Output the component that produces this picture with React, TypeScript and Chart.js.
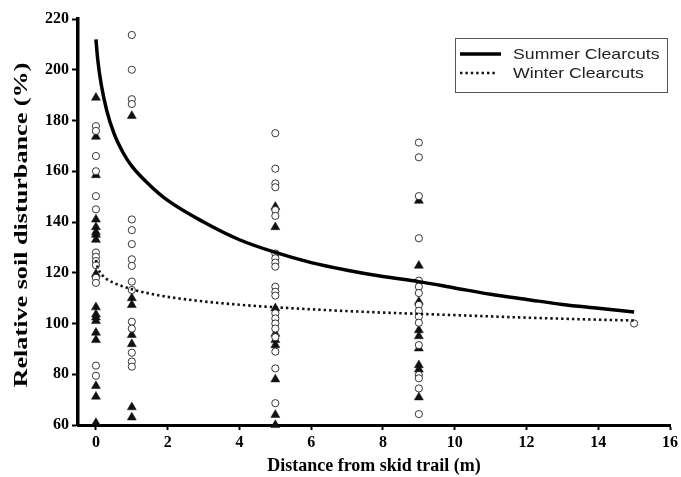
import React, { useEffect, useRef } from "react";
import { Chart, registerables } from "chart.js";

Chart.register(...registerables);

// ---- Data ----
const xTicks = [0, 2, 4, 6, 8, 10, 12, 14, 16];
const yTicks = [60, 80, 100, 120, 140, 160, 180, 200, 220];

const xTitle = "Distance from skid trail (m)";
const yTitle = "Relative soil disturbance (%)";
const summerLabel = "Summer Clearcuts";
const winterLabel = "Winter Clearcuts";

// Fitted curves
const summerCurveX = [0, 0.05, 0.15, 0.3, 0.5, 0.75, 1, 1.5, 2, 3, 4, 5, 6, 7, 8, 9, 10, 11, 12, 13, 14, 15];
const summerCurveY = [212, 204, 194, 184, 175, 167.5, 162, 154.5, 148.5, 140, 133, 128, 124, 121, 118.5, 116.5, 114, 111.5, 109.5, 107.5, 106, 104.5];

const winterCurveX = [0, 0.05, 0.15, 0.3, 0.5, 1, 1.5, 2, 3, 4, 5, 6, 7, 8, 9, 10, 11, 12, 13, 14, 15];
const winterCurveY = [125, 122, 119.5, 117.5, 116, 113.5, 111.8, 110.5, 108.7, 107.4, 106.4, 105.6, 104.9, 104.3, 103.8, 103.3, 102.8, 102.3, 101.9, 101.5, 101.2];

// Observations: open circles
const distances = [0, 1, 5, 9, 15];
const openAt0 = [177.8, 175.9, 166, 160, 150.2, 145, 128, 126.3, 124.6, 123, 118, 116, 83.4, 79.4];
const openAt1 = [213.7, 200, 188.4, 186.5, 141, 136.8, 131.3, 125.3, 122.7, 116.5, 113.2, 100.7, 98, 88.5, 85, 83];
const openAt5 = [175, 161, 155.2, 153.7, 144.7, 142.4, 127.6, 125.7, 124, 122.4, 114.5, 112.5, 111, 104, 102, 100, 98, 94.6, 88.9, 82.3, 68.6];
const openAt9 = [171.3, 165.5, 150.2, 133.6, 116.9, 114.5, 112, 107.3, 105, 102.7, 100.3, 91.5, 79.7, 78.4, 74.4, 64.3];
const openAt15 = [100];

// Observations: filled triangles
const filledAt0 = [189, 173.6, 158.5, 141, 138, 136, 135, 133, 119.5, 106.4, 103.6, 102.4, 101, 96.4, 93.5, 75.4, 71.2, 60.8];
const filledAt1 = [181.8, 110, 107.3, 95.5, 91.9, 67, 63];
const filledAt5 = [146, 138, 106, 96, 93.5, 91.5, 78, 64, 60];
const filledAt9 = [148.4, 122.8, 108.6, 97.4, 95, 90.2, 83.6, 81.9, 70.9];
const filledAt15: number[] = [];

const openGroups = [openAt0, openAt1, openAt5, openAt9, openAt15];
const filledGroups = [filledAt0, filledAt1, filledAt5, filledAt9, filledAt15];

const toPoints = (groups: number[][]) =>
  groups.flatMap((vals, i) => vals.map((v) => ({ x: distances[i], y: v })));

const zip = (xs: number[], ys: number[]) => xs.map((x, i) => ({ x, y: ys[i] }));

const serif = '"Liberation Serif", "Times New Roman", serif';

const yTitlePlugin = {
  id: "yTitleStretched",
  afterDraw(chart: any) {
    const { ctx, chartArea } = chart;
    ctx.save();
    ctx.font = `bold 18px ${serif}`;
    const w = ctx.measureText(yTitle).width;
    const target = (chartArea.bottom - chartArea.top) * 0.8;
    ctx.translate(22, (chartArea.top + chartArea.bottom) / 2 + 3);
    ctx.rotate(-Math.PI / 2);
    ctx.scale(target / w, 1);
    ctx.textAlign = "center";
    ctx.textBaseline = "middle";
    ctx.fillStyle = "#000";
    ctx.fillText(yTitle, 0, 0);
    ctx.restore();
  },
};

const legendPlugin = {
  id: "boxLegend",
  afterDraw(chart: any) {
    const { ctx, chartArea } = chart;
    const ds = chart.data.datasets;
    const right = chartArea.right - 3;
    const top = chartArea.top + 19;
    const w = 212;
    const h = 54;
    const left = right - w;
    ctx.save();
    ctx.fillStyle = "#fff";
    ctx.fillRect(left, top, w, h);
    ctx.strokeStyle = "#555";
    ctx.lineWidth = 1;
    ctx.strokeRect(left + 0.5, top + 0.5, w, h);
    const rows = [top + 16, top + 35];
    [0, 1].forEach((k, i) => {
      const d = ds[k];
      ctx.beginPath();
      ctx.strokeStyle = d.borderColor;
      ctx.lineWidth = d.borderWidth;
      ctx.setLineDash(d.borderDash || []);
      ctx.moveTo(left + 5, rows[i]);
      ctx.lineTo(left + (d.borderDash ? 42 : 46), rows[i]);
      ctx.stroke();
      ctx.setLineDash([]);
      ctx.save();
      ctx.translate(left + 58, rows[i]);
      ctx.scale(1.18, 1);
      ctx.font = '15px "Liberation Sans", Arial, sans-serif';
      ctx.fillStyle = "#222";
      ctx.textAlign = "left";
      ctx.textBaseline = "middle";
      ctx.fillText(d.label, 0, 1);
      ctx.restore();
    });
    ctx.restore();
  },
};

export default function App() {
  const ref = useRef<HTMLCanvasElement | null>(null);

  useEffect(() => {
    if (!ref.current) return;
    const tickFont = { family: serif, weight: "bold" as const, size: 16 };
    const chart = new Chart(ref.current, {
      type: "scatter",
      data: {
        datasets: [
          {
            label: summerLabel,
            data: zip(summerCurveX, summerCurveY),
            showLine: true,
            borderColor: "#000",
            borderWidth: 3.5,
            pointRadius: 0,
            cubicInterpolationMode: "monotone",
            fill: false,
          } as any,
          {
            label: winterLabel,
            data: zip(winterCurveX, winterCurveY),
            showLine: true,
            borderColor: "#111",
            borderWidth: 2.6,
            borderDash: [2.4, 3],
            pointRadius: 0,
            cubicInterpolationMode: "monotone",
            fill: false,
          } as any,
          {
            label: "open",
            data: toPoints(openGroups),
            pointStyle: "circle",
            pointRadius: 3.6,
            pointBorderWidth: 0.9,
            pointBorderColor: "#222",
            pointBackgroundColor: "#fff",
            showLine: false,
            clip: false,
          } as any,
          {
            label: "filled",
            data: toPoints(filledGroups),
            pointStyle: "triangle",
            pointRadius: 5.2,
            pointBorderWidth: 0.5,
            pointBorderColor: "#111",
            pointBackgroundColor: "#111",
            showLine: false,
            clip: false,
          } as any,
        ],
      },
      options: {
        responsive: false,
        animation: false,
        devicePixelRatio: 1,
        layout: { padding: { left: 0, top: 19, right: 8, bottom: 0 } },
        plugins: {
          legend: { display: false },
          tooltip: { enabled: false },
        },
        scales: {
          x: {
            type: "linear",
            min: -0.5,
            max: 16,
            afterBuildTicks: (s: any) => {
              s.ticks = xTicks.map((v) => ({ value: v }));
            },
            afterFit: (s: any) => {
              s.height = 52;
            },
            grid: {
              drawOnChartArea: false,
              drawTicks: true,
              tickLength: 5,
              tickColor: "#000",
              tickWidth: 2,
              color: "#000",
            },
            border: { display: true, color: "#000", width: 3 },
            ticks: { color: "#000", font: tickFont, padding: 3, maxRotation: 0 },
            title: {
              display: true,
              text: xTitle,
              color: "#000",
              font: { family: serif, weight: "bold", size: 18 },
              padding: { top: 0, bottom: 0 },
            },
          },
          y: {
            type: "linear",
            min: 60,
            max: 220,
            afterBuildTicks: (s: any) => {
              s.ticks = yTicks.map((v) => ({ value: v }));
            },
            afterFit: (s: any) => {
              s.width = 78;
            },
            grid: {
              drawOnChartArea: false,
              drawTicks: true,
              tickLength: 6,
              tickColor: "#000",
              tickWidth: 2,
              color: "#000",
            },
            border: { display: true, color: "#000", width: 3.5 },
            ticks: { color: "#000", font: tickFont, padding: 3 },
          },
        },
      },
      plugins: [yTitlePlugin, legendPlugin],
    });
    return () => chart.destroy();
  }, []);

  return (
    <div style={{ position: "fixed", left: 0, top: 0, width: 681, height: 477, background: "#fff" }}>
      <canvas ref={ref} width={681} height={477} style={{ width: 681, height: 477, display: "block" }} />
    </div>
  );
}
